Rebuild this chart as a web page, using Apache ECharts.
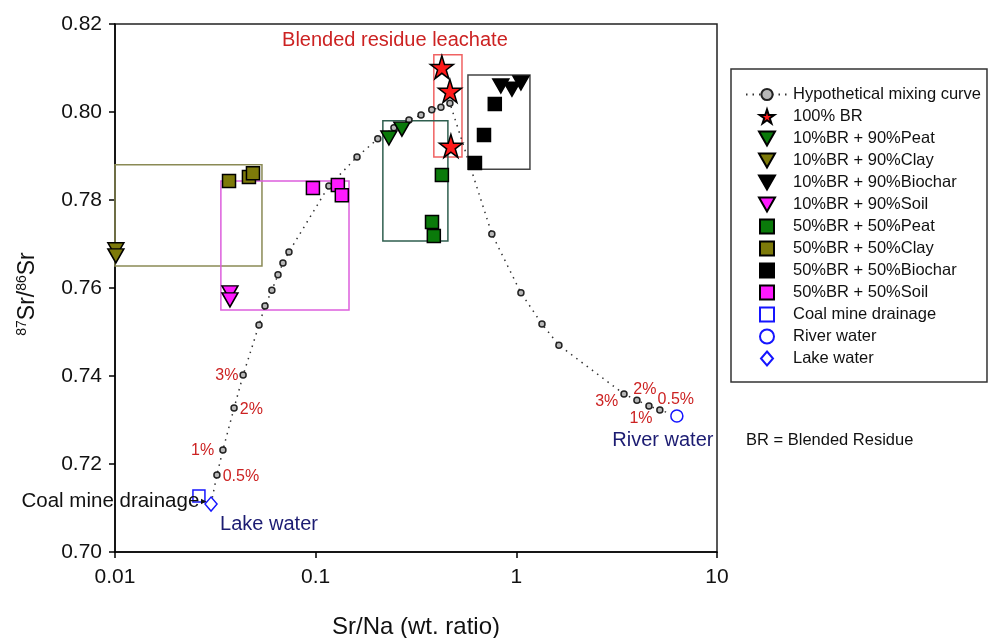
<!DOCTYPE html>
<html>
<head>
<meta charset="utf-8">
<title>Sr isotope mixing</title>
<script src="https://cdn.jsdelivr.net/npm/echarts@6/dist/echarts.min.js"></script>
<style>
html,body{margin:0;padding:0;background:#fff;}
#main{width:990px;height:638px;}
</style>
</head>
<body>
<div id="main"></div>
<script>
// hypothetical mixing curve: lake water -> 100% BR -> river water
var curveX = [0.0301, 0.0322, 0.0345, 0.0392, 0.0435, 0.0522, 0.0559, 0.0605, 0.0649, 0.0687,
    0.0736, 0.1164, 0.1607, 0.204, 0.2455, 0.2917, 0.335, 0.379, 0.421, 0.4667,
    0.755, 1.054, 1.342, 1.63, 3.44, 3.99, 4.58, 5.19, 6.31];
var curveY = [0.7109, 0.7175, 0.7232, 0.7327, 0.7402, 0.7516, 0.7559, 0.7595, 0.7630, 0.7657,
    0.7682, 0.7832, 0.7898, 0.7939, 0.7964, 0.7982, 0.7993, 0.8005, 0.8011, 0.8020,
    0.7723, 0.7589, 0.7518, 0.7470, 0.7359, 0.7345, 0.7332, 0.7323, 0.7309];
var curvePct = ['', '0.5%', '1%', '2%', '3%', '', '', '', '', '',
    '', '', '', '', '', '', '', '', '', '',
    '', '', '', '', '3%', '2%', '1%', '0.5%', ''];

var brX = [0.4256, 0.4667, 0.472];
var brY = [0.8102, 0.8048, 0.7923];
var peat10X = [0.2317, 0.269];
var peat10Y = [0.7941, 0.7961];
var clay10X = [0.0101, 0.0101];
var clay10Y = [0.7687, 0.7673];
var biochar10X = [0.837, 0.951, 1.054];
var biochar10Y = [0.8059, 0.8052, 0.8066];
var soil10X = [0.0374, 0.0374];
var soil10Y = [0.7589, 0.7573];
var peat50X = [0.4256, 0.380, 0.388];
var peat50Y = [0.7857, 0.7750, 0.7718];
var clay50X = [0.037, 0.0465, 0.0487];
var clay50Y = [0.7843, 0.7852, 0.7861];
var biochar50X = [0.781, 0.690, 0.622];
var biochar50Y = [0.8018, 0.7948, 0.7884];
var soil50X = [0.0969, 0.129, 0.135];
var soil50Y = [0.7827, 0.7834, 0.7811];
var coalX = [0.0262], coalY = [0.7127];
var riverX = [6.31], riverY = [0.7309];
var lakeX = [0.0301], lakeY = [0.7109];

// group boxes [xmin, xmax, ymin, ymax]
var boxBR = [0.388, 0.536, 0.7898, 0.8130];
var boxPeat = [0.2162, 0.456, 0.7707, 0.7980];
var boxClay = [0.01, 0.054, 0.7650, 0.7880];
var boxBiochar = [0.574, 1.169, 0.7870, 0.8084];
var boxSoil = [0.0337, 0.1466, 0.7550, 0.7843];

var FONT = 'Arial, "Liberation Sans", sans-serif';
var RED = '#cc2222';
var NAVY = '#1c1c72';

function pts(xs, ys) {
    return xs.map(function (x, i) { return [x, ys[i]]; });
}
function box(b, color, label) {
    var a = { coord: [b[0], b[2]] };
    if (label) a.name = label;
    return {
        silent: true,
        itemStyle: { color: 'rgba(0,0,0,0)', borderColor: color, borderWidth: 1.5 },
        label: label ? {
            show: true, position: 'top', offset: [-53, 0], distance: 4,
            color: RED, fontSize: 20, fontFamily: FONT
        } : { show: false },
        data: [[a, { coord: [b[1], b[3]] }]]
    };
}

// where each % label sits relative to its point
var pctPlace = {
    1: ['right', [-3, 2]], 2: ['left', [0, 1]], 3: ['right', [-3, 1]], 4: ['left', [4, 0]],
    24: ['left', [3, 8]], 25: ['top', [8, 6]], 26: ['bottom', [-8, -4]], 27: ['top', [16, 6]]
};
var curveData = curveX.map(function (x, i) {
    var d = { value: [x, curveY[i]] };
    if (i == 0 || i == curveX.length - 1) d.symbol = 'none';
    if (curvePct[i]) {
        d.label = {
            show: true, formatter: curvePct[i], position: pctPlace[i][0], offset: pctPlace[i][1],
            color: RED, fontSize: 16, fontFamily: FONT
        };
    }
    return d;
});

var triDown = 'path://M0,0 L16,0 L8,14 Z';
var square = 'path://M0,0 L10,0 L10,10 L0,10 Z';
var diamond = 'path://M6,0 L12,7 L6,14 L0,7 Z';
var star = 'path://M50,0 L61,35 L98,35 L68,57 L79,91 L50,70 L21,91 L32,57 L2,35 L39,35 Z';

function sc(name, xs, ys, symbol, size, color, extra) {
    var s = {
        name: name, type: 'scatter', symbol: symbol, symbolSize: size,
        itemStyle: { color: color, borderColor: '#000', borderWidth: 1.5, opacity: 1 },
        data: pts(xs, ys)
    };
    for (var k in extra) s[k] = extra[k];
    return s;
}
function hollow(name, xs, ys, symbol, size, label) {
    return {
        name: name, type: 'scatter', symbol: symbol, symbolSize: size,
        itemStyle: { color: '#fff', borderColor: '#1515ff', borderWidth: 1.5, opacity: 1 },
        label: label,
        data: pts(xs, ys)
    };
}

var myChart = echarts.init(document.getElementById('main'));
var option = {
    animation: false,
    backgroundColor: '#fff',
    textStyle: { fontFamily: FONT },
    grid: {
        left: 115, top: 24, width: 602, height: 528, outerBoundsMode: 'none',
        show: true, borderColor: '#222', borderWidth: 1.5, backgroundColor: 'rgba(0,0,0,0)'
    },
    xAxis: {
        type: 'log', logBase: 10, min: 0.01, max: 10,
        name: 'Sr/Na (wt. ratio)', nameLocation: 'middle', nameGap: 63,
        nameTextStyle: { fontSize: 24, color: '#111', fontFamily: FONT },
        axisLine: { lineStyle: { color: '#000', width: 1.5 } },
        axisTick: { inside: false, length: 6, lineStyle: { color: '#000', width: 1.5 } },
        minorTick: { show: false },
        splitLine: { show: false },
        axisLabel: {
            fontSize: 21, color: '#111', margin: 15, fontFamily: FONT,
            formatter: function (v) { return String(+(+v).toPrecision(3)); }
        }
    },
    yAxis: {
        type: 'value', min: 0.70, max: 0.82, interval: 0.02,
        name: '{sup|87}{m|Sr/}{sup|86}{m|Sr}', nameLocation: 'middle', nameGap: 74,
        nameTextStyle: {
            color: '#111', fontFamily: FONT, padding: [0, 12, 0, 0],
            rich: {
                m: { fontSize: 23, color: '#111', fontFamily: FONT },
                sup: { fontSize: 14, color: '#111', fontFamily: FONT, padding: [0, 0, 12, 0] }
            }
        },
        axisLine: { lineStyle: { color: '#000', width: 1.5 } },
        axisTick: { inside: false, length: 6, lineStyle: { color: '#000', width: 1.5 } },
        splitLine: { show: false },
        axisLabel: {
            fontSize: 21, color: '#111', margin: 13, fontFamily: FONT,
            formatter: function (v) { return v.toFixed(2); }
        }
    },
    legend: {
        orient: 'vertical', left: 731, top: 69,
        padding: [17, 6, 15, 14], itemWidth: 42, itemHeight: 14, itemGap: 5,
        borderColor: '#333', borderWidth: 1.5,
        textStyle: { fontSize: 16.5, color: '#111', fontFamily: FONT },
        data: ['Hypothetical mixing curve', '100% BR', '10%BR + 90%Peat', '10%BR + 90%Clay',
            '10%BR + 90%Biochar', '10%BR + 90%Soil', '50%BR + 50%Peat', '50%BR + 50%Clay',
            '50%BR + 50%Biochar', '50%BR + 50%Soil', 'Coal mine drainage', 'River water', 'Lake water']
    },
    graphic: [{
        type: 'text', left: 746, top: 432,
        style: { text: 'BR = Blended Residue', fontSize: 16.5, fill: '#111', fontFamily: FONT }
    }],
    series: [
        {
            name: 'Hypothetical mixing curve', type: 'line', data: curveData,
            symbol: 'circle', symbolSize: 6, z: 1,
            itemStyle: { color: '#b8b8b8', borderColor: '#222', borderWidth: 1.5 },
            lineStyle: { color: '#333', width: 1.5, type: [1.5, 5] }
        },
        sc('100% BR', brX, brY, star, 23, '#ff1a1a', { markArea: box(boxBR, '#f06262', 'Blended residue leachate') }),
        sc('10%BR + 90%Peat', peat10X, peat10Y, triDown, [16, 14], '#0a7a0a'),
        sc('10%BR + 90%Clay', clay10X, clay10Y, triDown, [16, 14], '#7d7a0a'),
        sc('10%BR + 90%Biochar', biochar10X, biochar10Y, triDown, [16, 14], '#000'),
        sc('10%BR + 90%Soil', soil10X, soil10Y, triDown, [16, 14], '#ff1aff'),
        sc('50%BR + 50%Peat', peat50X, peat50Y, square, 13, '#0a7a0a', { markArea: box(boxPeat, '#2f5f4f') }),
        sc('50%BR + 50%Clay', clay50X, clay50Y, square, 13, '#7d7a0a', { markArea: box(boxClay, '#8a8a55') }),
        sc('50%BR + 50%Biochar', biochar50X, biochar50Y, square, 13, '#000', { markArea: box(boxBiochar, '#444') }),
        sc('50%BR + 50%Soil', soil50X, soil50Y, square, 13, '#ff1aff', { markArea: box(boxSoil, '#dd5fdd') }),
        hollow('Coal mine drainage', coalX, coalY, square, 12, {
            show: true, position: 'left', offset: [21, 5],
            formatter: 'Coal mine drainage{a|►}', color: '#111', fontSize: 20.5, fontFamily: FONT,
            rich: { a: { fontSize: 9, color: '#111' } }
        }),
        hollow('River water', riverX, riverY, 'circle', 12, {
            show: true, position: 'bottom', offset: [-14, 3],
            formatter: 'River water', color: NAVY, fontSize: 20, fontFamily: FONT
        }),
        hollow('Lake water', lakeX, lakeY, diamond, [12, 14], {
            show: true, position: 'bottom', offset: [58, -2],
            formatter: 'Lake water', color: NAVY, fontSize: 20, fontFamily: FONT
        })
    ]
};
myChart.setOption(option);
</script>
</body>
</html>
